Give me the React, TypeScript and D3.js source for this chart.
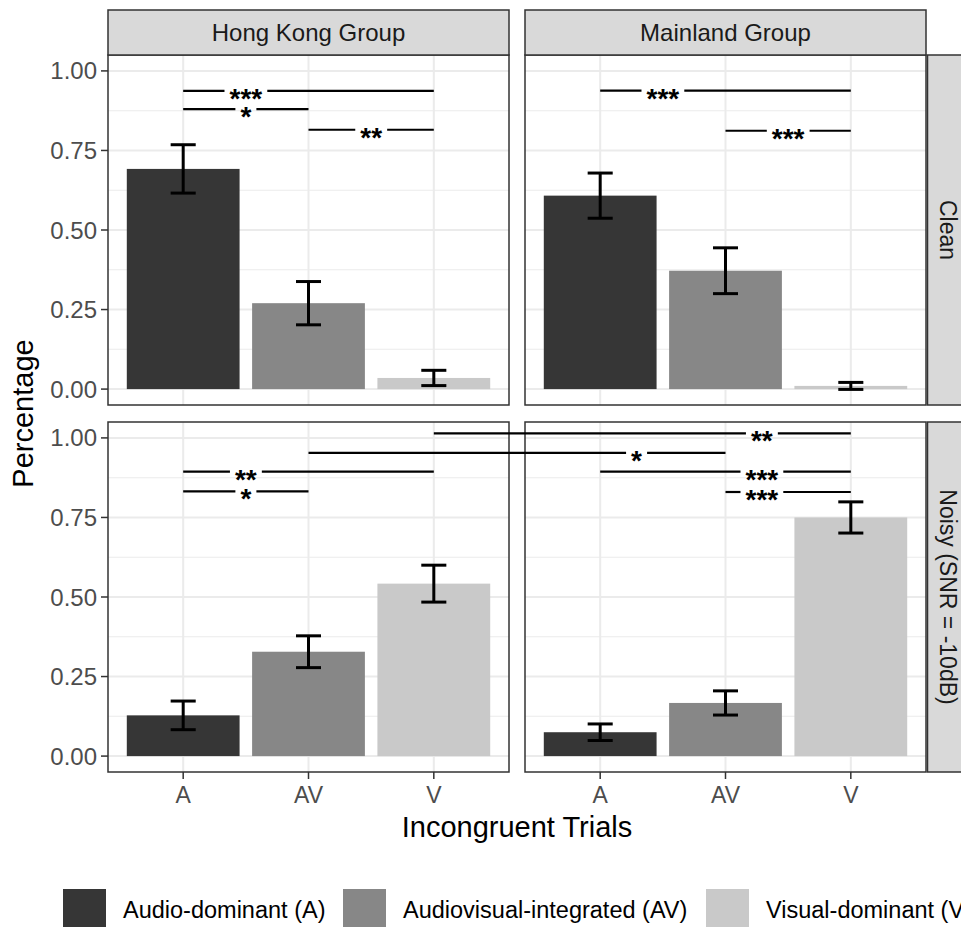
import React, { useEffect, useRef } from 'react';
import * as d3 from 'd3';

// facets
const groups = ['Hong Kong Group', 'Mainland Group'];
const conditions = ['Clean', 'Noisy (SNR = -10dB)'];
const trialTypes = ['A', 'AV', 'V'];
const legendLabels = ['Audio-dominant (A)', 'Audiovisual-integrated (AV)', 'Visual-dominant (V)'];
const fills = ['#363636', '#878787', '#c9c9c9'];
const yTicks = [0, 0.25, 0.5, 0.75, 1.0];
const yMinor = [0.125, 0.375, 0.625, 0.875];

// means and standard errors, [condition][group][trial type]
const means = [
  [
    [0.692, 0.27, 0.035],
    [0.608, 0.372, 0.01],
  ],
  [
    [0.128, 0.328, 0.542],
    [0.075, 0.167, 0.75],
  ],
];
const errors = [
  [
    [0.076, 0.068, 0.024],
    [0.071, 0.072, 0.011],
  ],
  [
    [0.045, 0.05, 0.058],
    [0.026, 0.038, 0.049],
  ],
];

// significance brackets: row, start [group, type], end [group, type], y, label, label at [group, position]
const sigLines = [
  { row: 0, from: [0, 1], to: [0, 3], y: 0.937, label: '***', at: [0, 1.5] },
  { row: 0, from: [0, 1], to: [0, 2], y: 0.88, label: '*', at: [0, 1.5] },
  { row: 0, from: [0, 2], to: [0, 3], y: 0.815, label: '**', at: [0, 2.5] },
  { row: 0, from: [1, 1], to: [1, 3], y: 0.938, label: '***', at: [1, 1.5] },
  { row: 0, from: [1, 2], to: [1, 3], y: 0.812, label: '***', at: [1, 2.5] },
  { row: 1, from: [0, 3], to: [1, 3], y: 1.014, label: '**', at: [1, 2.29] },
  { row: 1, from: [0, 2], to: [1, 2], y: 0.953, label: '*', at: [1, 1.29] },
  { row: 1, from: [0, 1], to: [0, 3], y: 0.894, label: '**', at: [0, 1.5] },
  { row: 1, from: [0, 1], to: [0, 2], y: 0.832, label: '*', at: [0, 1.5] },
  { row: 1, from: [1, 1], to: [1, 3], y: 0.894, label: '***', at: [1, 2.29] },
  { row: 1, from: [1, 2], to: [1, 3], y: 0.83, label: '***', at: [1, 2.29] },
];

const FONT = '"Liberation Sans", Arial, Helvetica, sans-serif';

function App() {
  const svgRef = useRef<SVGSVGElement>(null);

  useEffect(() => {
    const svg = d3.select(svgRef.current);
    svg.selectAll('*').remove();

    const dims = {
      width: 961,
      height: 927,
      panelW: 401,
      panelH: 350,
      left: 108,
      top: 55,
      hGap: 16,
      vGap: 17,
      strip: 45,
    };

    const panelX = (c: number) => dims.left + c * (dims.panelW + dims.hGap);
    const panelY = (r: number) => dims.top + r * (dims.panelH + dims.vGap);

    const xScales = groups.map((_, c) =>
      d3.scaleLinear().domain([0.4, 3.6]).range([panelX(c), panelX(c) + dims.panelW])
    );
    const yScales = conditions.map((_, r) =>
      d3.scaleLinear().domain([-0.05, 1.05]).range([panelY(r) + dims.panelH, panelY(r)])
    );

    const defs = svg.append('defs');

    conditions.forEach((cond, r) => {
      const y = yScales[r];
      groups.forEach((grp, c) => {
        const x = xScales[c];
        const px = panelX(c);
        const py = panelY(r);
        const clipId = `clip-${r}-${c}`;
        defs
          .append('clipPath')
          .attr('id', clipId)
          .append('rect')
          .attr('x', px)
          .attr('y', py)
          .attr('width', dims.panelW)
          .attr('height', dims.panelH);

        const g = svg.append('g').attr('clip-path', `url(#${clipId})`);
        g.append('rect')
          .attr('x', px)
          .attr('y', py)
          .attr('width', dims.panelW)
          .attr('height', dims.panelH)
          .attr('fill', 'white');

        // grid
        g.selectAll('.minor')
          .data(yMinor)
          .enter()
          .append('line')
          .attr('x1', px)
          .attr('x2', px + dims.panelW)
          .attr('y1', (d) => y(d))
          .attr('y2', (d) => y(d))
          .attr('stroke', '#ebebeb')
          .attr('stroke-width', 1.1);
        g.selectAll('.major')
          .data(yTicks)
          .enter()
          .append('line')
          .attr('x1', px)
          .attr('x2', px + dims.panelW)
          .attr('y1', (d) => y(d))
          .attr('y2', (d) => y(d))
          .attr('stroke', '#ebebeb')
          .attr('stroke-width', 2);
        g.selectAll('.vmajor')
          .data(trialTypes)
          .enter()
          .append('line')
          .attr('x1', (_, i) => x(i + 1))
          .attr('x2', (_, i) => x(i + 1))
          .attr('y1', py)
          .attr('y2', py + dims.panelH)
          .attr('stroke', '#ebebeb')
          .attr('stroke-width', 2);

        // bars
        const vals = means[r][c];
        const errs = errors[r][c];
        g.selectAll('.bar')
          .data(vals)
          .enter()
          .append('rect')
          .attr('x', (_, i) => x(i + 1 - 0.45))
          .attr('width', x(1.45) - x(0.55))
          .attr('y', (d) => y(d))
          .attr('height', (d) => y(0) - y(d))
          .attr('fill', (_, i) => fills[i]);

        // error bars
        const eb = g
          .selectAll('.err')
          .data(vals)
          .enter()
          .append('g')
          .attr('stroke', 'black')
          .attr('stroke-width', 3);
        eb.append('line')
          .attr('x1', (_, i) => x(i + 1))
          .attr('x2', (_, i) => x(i + 1))
          .attr('y1', (d, i) => y(d + errs[i]))
          .attr('y2', (d, i) => y(d - errs[i]));
        eb.append('line')
          .attr('x1', (_, i) => x(i + 0.9))
          .attr('x2', (_, i) => x(i + 1.1))
          .attr('y1', (d, i) => y(d + errs[i]))
          .attr('y2', (d, i) => y(d + errs[i]));
        eb.append('line')
          .attr('x1', (_, i) => x(i + 0.9))
          .attr('x2', (_, i) => x(i + 1.1))
          .attr('y1', (d, i) => y(d - errs[i]))
          .attr('y2', (d, i) => y(d - errs[i]));

        // border
        svg
          .append('rect')
          .attr('x', px)
          .attr('y', py)
          .attr('width', dims.panelW)
          .attr('height', dims.panelH)
          .attr('fill', 'none')
          .attr('stroke', '#333333')
          .attr('stroke-width', 1.5);

        // top strips
        if (r === 0) {
          svg
            .append('rect')
            .attr('x', px)
            .attr('y', py - dims.strip)
            .attr('width', dims.panelW)
            .attr('height', dims.strip)
            .attr('fill', '#d9d9d9')
            .attr('stroke', '#333333')
            .attr('stroke-width', 1.5);
          svg
            .append('text')
            .attr('x', px + dims.panelW / 2)
            .attr('y', py - dims.strip / 2 + 8.5)
            .attr('text-anchor', 'middle')
            .attr('fill', '#1a1a1a')
            .style('font-family', FONT)
            .style('font-size', '24px')
            .text(grp);
        }

        // x axis
        if (r === conditions.length - 1) {
          const xa = svg.append('g');
          trialTypes.forEach((t, i) => {
            xa.append('line')
              .attr('x1', x(i + 1))
              .attr('x2', x(i + 1))
              .attr('y1', py + dims.panelH)
              .attr('y2', py + dims.panelH + 7)
              .attr('stroke', '#333333')
              .attr('stroke-width', 1.5);
            xa.append('text')
              .attr('x', x(i + 1))
              .attr('y', py + dims.panelH + 31)
              .attr('text-anchor', 'middle')
              .attr('fill', '#4d4d4d')
              .style('font-family', FONT)
              .style('font-size', '23px')
              .text(t);
          });
        }
      });

      // y axis
      const ya = svg.append('g');
      yTicks.forEach((t) => {
        ya.append('line')
          .attr('x1', dims.left - 7)
          .attr('x2', dims.left)
          .attr('y1', y(t))
          .attr('y2', y(t))
          .attr('stroke', '#333333')
          .attr('stroke-width', 1.5);
        ya.append('text')
          .attr('x', dims.left - 11)
          .attr('y', y(t) + 8.5)
          .attr('text-anchor', 'end')
          .attr('fill', '#4d4d4d')
          .style('font-family', FONT)
          .style('font-size', '24px')
          .text(d3.format('.2f')(t));
      });

      // right strips
      const sx = panelX(groups.length - 1) + dims.panelW + 1.5;
      const py = panelY(r);
      svg
        .append('rect')
        .attr('x', sx)
        .attr('y', py)
        .attr('width', dims.strip)
        .attr('height', dims.panelH)
        .attr('fill', '#d9d9d9')
        .attr('stroke', '#333333')
        .attr('stroke-width', 1.5);
      svg
        .append('text')
        .attr('transform', `translate(${sx + 12},${py + dims.panelH / 2}) rotate(90)`)
        .attr('text-anchor', 'middle')
        .attr('fill', '#1a1a1a')
        .style('font-family', FONT)
        .style('font-size', '23px')
        .text(cond);
    });

    // significance lines
    const sigG = svg.append('g');
    sigLines.forEach((s) => {
      const y = yScales[s.row](s.y);
      const x1 = xScales[s.from[0]](s.from[1]);
      const x2 = xScales[s.to[0]](s.to[1]);
      const cx = xScales[s.at[0]](s.at[1]);
      const txt = sigG
        .append('text')
        .attr('x', cx)
        .attr('y', y + 17)
        .attr('text-anchor', 'middle')
        .attr('fill', 'black')
        .style('font-family', FONT)
        .style('font-weight', 'bold')
        .style('font-size', '28px')
        .text(s.label);
      const bb = (txt.node() as SVGTextElement).getBBox();
      const pad = 5;
      const segs = [
        [x1, bb.x - pad],
        [bb.x + bb.width + pad, x2],
      ].filter((p) => p[1] > p[0]);
      segs.forEach((p) => {
        sigG
          .append('line')
          .attr('x1', p[0])
          .attr('x2', p[1])
          .attr('y1', y)
          .attr('y2', y)
          .attr('stroke', 'black')
          .attr('stroke-width', 2.2);
      });
    });

    // axis titles
    const plotRight = panelX(groups.length - 1) + dims.panelW;
    svg
      .append('text')
      .attr('x', (dims.left + plotRight) / 2)
      .attr('y', 837)
      .attr('text-anchor', 'middle')
      .attr('fill', 'black')
      .style('font-family', FONT)
      .style('font-size', '29px')
      .text('Incongruent Trials');
    svg
      .append('text')
      .attr('transform', `translate(33,${(panelY(0) + panelY(1) + dims.panelH) / 2}) rotate(-90)`)
      .attr('text-anchor', 'middle')
      .attr('fill', 'black')
      .style('font-family', FONT)
      .style('font-size', '29px')
      .text('Percentage');

    // legend
    const legendX = [63, 343, 706];
    const lg = svg.append('g');
    legendLabels.forEach((lab, i) => {
      lg.append('rect')
        .attr('x', legendX[i])
        .attr('y', 889)
        .attr('width', 43)
        .attr('height', 43)
        .attr('fill', fills[i]);
      lg.append('text')
        .attr('x', legendX[i] + 60)
        .attr('y', 918)
        .attr('fill', 'black')
        .style('font-family', FONT)
        .style('font-size', '23.5px')
        .text(lab);
    });
  }, []);

  return (
    <svg
      ref={svgRef}
      width={961}
      height={927}
      style={{ position: 'absolute', left: 0, top: 0, display: 'block', background: 'white' }}
    />
  );
}

export default App;
